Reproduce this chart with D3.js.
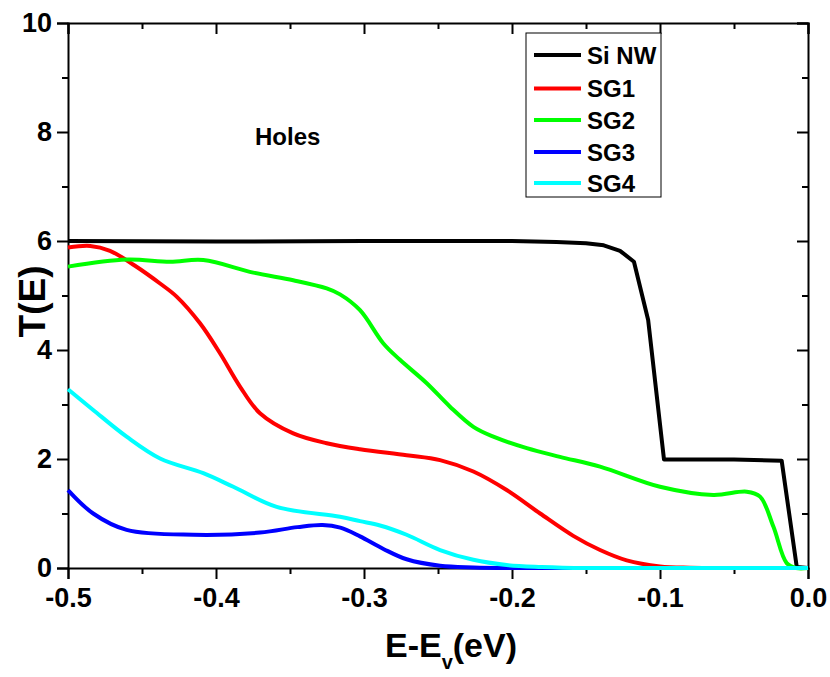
<!DOCTYPE html>
<html>
<head>
<meta charset="utf-8">
<script src="https://cdn.jsdelivr.net/npm/d3@7"></script>
<style>
  body { margin: 0; background: #fff; }
  svg { display: block; }
  text { font-family: "Liberation Sans", Arial, sans-serif; font-weight: bold; }
</style>
</head>
<body>
<script>
// ---- data ----
const xTicks = [-0.5, -0.4, -0.3, -0.2, -0.1, 0.0];
const xTickLabels = ["-0.5", "-0.4", "-0.3", "-0.2", "-0.1", "0.0"];
const yTicks = [0, 2, 4, 6, 8, 10];
const yTickLabels = ["0", "2", "4", "6", "8", "10"];

const seriesNames = ["Si NW", "SG1", "SG2", "SG3", "SG4"];
const seriesColors = ["#000000", "#ff0000", "#00ff00", "#0000ff", "#00ffff"];

const siNW_x = [-0.5, -0.4, -0.3, -0.2, -0.17, -0.15, -0.138, -0.127, -0.1176, -0.108, -0.0973, -0.05, -0.0178, -0.0076, 0.0];
const siNW_y = [6.0, 5.99, 6.0, 6.0, 5.98, 5.96, 5.92, 5.82, 5.62, 4.55, 1.99, 1.99, 1.97, 0.02, 0.0];

const sg1_x = [-0.5, -0.485, -0.4716, -0.455, -0.4378, -0.4266, -0.4108, -0.3973, -0.3838, -0.3703, -0.3478, -0.3252, -0.3027, -0.2712, -0.2486, -0.2261, -0.2036, -0.181, -0.1586, -0.1405, -0.1225, -0.1, -0.08, -0.05, 0.0];
const sg1_y = [5.88, 5.91, 5.82, 5.55, 5.22, 4.98, 4.49, 3.94, 3.33, 2.84, 2.47, 2.29, 2.18, 2.07, 1.98, 1.77, 1.43, 1.0, 0.59, 0.33, 0.14, 0.03, 0.005, 0.0, 0.0];

const sg2_x = [-0.5, -0.4604, -0.431, -0.4086, -0.3748, -0.3478, -0.3252, -0.3162, -0.3027, -0.2869, -0.2757, -0.2576, -0.2419, -0.2261, -0.2126, -0.19, -0.1676, -0.1405, -0.1, -0.064, -0.0414, -0.0324, -0.0234, -0.0144, -0.008, 0.0];
const sg2_y = [5.53, 5.66, 5.62, 5.65, 5.42, 5.28, 5.13, 5.02, 4.73, 4.12, 3.82, 3.39, 2.96, 2.59, 2.41, 2.20, 2.04, 1.86, 1.49, 1.34, 1.40, 1.31, 0.76, 0.09, 0.0, 0.0];

const sg3_x = [-0.5, -0.483, -0.4604, -0.4153, -0.3703, -0.345, -0.328, -0.316, -0.3027, -0.2869, -0.2712, -0.2486, -0.226, -0.2, -0.1, 0.0];
const sg3_y = [1.43, 1.0, 0.70, 0.61, 0.65, 0.75, 0.79, 0.74, 0.58, 0.35, 0.16, 0.04, 0.01, 0.0, 0.0, 0.0];

const sg4_x = [-0.5, -0.483, -0.4604, -0.4378, -0.4086, -0.3883, -0.359, -0.3162, -0.3027, -0.2892, -0.2712, -0.2486, -0.2261, -0.2036, -0.18, -0.15, -0.1, 0.0];
const sg4_y = [3.28, 2.90, 2.41, 2.01, 1.74, 1.49, 1.12, 0.94, 0.86, 0.78, 0.61, 0.33, 0.15, 0.055, 0.02, 0.0, 0.0, 0.0];

// ---- layout ----
const W = 830, H = 677;
const m = { left: 68, top: 23, right: 22, bottom: 109 };
const iw = W - m.left - m.right, ih = H - m.top - m.bottom;

const svg = d3.select("body").append("svg").attr("width", W).attr("height", H);
const g = svg.append("g").attr("transform", `translate(${m.left},${m.top})`);

const x = d3.scaleLinear().domain([-0.5, 0.0]).range([0, iw]);
const y = d3.scaleLinear().domain([0, 10]).range([ih, 0]);

const xMinor = d3.range(-0.45, 0, 0.1).map(v => +v.toFixed(2));
const yMinor = d3.range(1, 10, 2);

function styleAxis(sel) {
  sel.selectAll("path, line").attr("stroke", "#000").attr("stroke-width", 2);
}

const smooth = d3.curveCatmullRom.alpha(0.5);
const all = [
  { name: seriesNames[0], color: seriesColors[0], xs: siNW_x, ys: siNW_y, curve: d3.curveLinear },
  { name: seriesNames[1], color: seriesColors[1], xs: sg1_x, ys: sg1_y, curve: smooth },
  { name: seriesNames[2], color: seriesColors[2], xs: sg2_x, ys: sg2_y, curve: smooth },
  { name: seriesNames[3], color: seriesColors[3], xs: sg3_x, ys: sg3_y, curve: smooth },
  { name: seriesNames[4], color: seriesColors[4], xs: sg4_x, ys: sg4_y, curve: smooth }
];

// axes (outer)
const ax = g.append("g").attr("transform", `translate(0,${ih})`)
  .call(d3.axisBottom(x).tickValues(xTicks).tickFormat((d, i) => xTickLabels[i]).tickSize(11).tickPadding(9));
styleAxis(ax);
ax.selectAll("text").attr("font-size", 27).attr("fill", "#000").style("font-family", '"Liberation Sans", Arial, sans-serif').style("font-weight", "bold");

const axm = g.append("g").attr("transform", `translate(0,${ih})`)
  .call(d3.axisBottom(x).tickValues(xMinor).tickFormat("").tickSize(6));
styleAxis(axm); axm.select(".domain").remove();

const ay = g.append("g")
  .call(d3.axisLeft(y).tickValues(yTicks).tickFormat((d, i) => yTickLabels[i]).tickSize(11).tickPadding(5));
styleAxis(ay);
ay.selectAll("text").attr("font-size", 27).attr("fill", "#000").style("font-family", '"Liberation Sans", Arial, sans-serif').style("font-weight", "bold");

const aym = g.append("g").call(d3.axisLeft(y).tickValues(yMinor).tickFormat("").tickSize(6));
styleAxis(aym); aym.select(".domain").remove();

// top & right (inward ticks)
const at = g.append("g").call(d3.axisTop(x).tickValues(xTicks).tickFormat("").tickSize(-11));
styleAxis(at);
const atm = g.append("g").call(d3.axisTop(x).tickValues(xMinor).tickFormat("").tickSize(-6));
styleAxis(atm); atm.select(".domain").remove();

const ar = g.append("g").attr("transform", `translate(${iw},0)`)
  .call(d3.axisRight(y).tickValues(yTicks).tickFormat("").tickSize(-11));
styleAxis(ar);
const arm = g.append("g").attr("transform", `translate(${iw},0)`)
  .call(d3.axisRight(y).tickValues(yMinor).tickFormat("").tickSize(-6));
styleAxis(arm); arm.select(".domain").remove();

// lines
all.forEach(s => {
  const pts = s.xs.map((v, i) => [v, s.ys[i]]);
  g.append("path")
    .datum(pts)
    .attr("fill", "none")
    .attr("stroke", s.color)
    .attr("stroke-width", 4)
    .attr("stroke-linejoin", "round")
    .attr("d", d3.line().x(d => x(d[0])).y(d => Math.min(y(d[1]), ih)).curve(s.curve));
});

// axis titles
svg.append("text")
  .attr("transform", `translate(45,${m.top + ih / 2 + 6}) rotate(-90)`)
  .attr("text-anchor", "middle")
  .attr("font-size", 37)
  .text("T(E)");

const xt = svg.append("text")
  .attr("x", 451)
  .attr("y", 657)
  .attr("text-anchor", "middle")
  .attr("font-size", 34);
xt.append("tspan").text("E-E");
xt.append("tspan").attr("font-size", 20).attr("dy", 12).text("v");
xt.append("tspan").attr("dy", -12).text("(eV)");

// annotation
svg.append("text").attr("x", 255).attr("y", 145).attr("font-size", 24).text("Holes");

// legend
const lg = svg.append("g");
lg.append("rect").attr("x", 526).attr("y", 33).attr("width", 135).attr("height", 164)
  .attr("fill", "#fff").attr("stroke", "#000").attr("stroke-width", 1);
const rowY = [55, 88.5, 120, 152, 183];
all.forEach((s, i) => {
  lg.append("line").attr("x1", 534).attr("x2", 581).attr("y1", rowY[i]).attr("y2", rowY[i])
    .attr("stroke", s.color).attr("stroke-width", 4);
  lg.append("text").attr("x", 587).attr("y", rowY[i]).attr("dy", "0.36em")
    .attr("font-size", 24).text(s.name);
});
</script>
</body>
</html>
